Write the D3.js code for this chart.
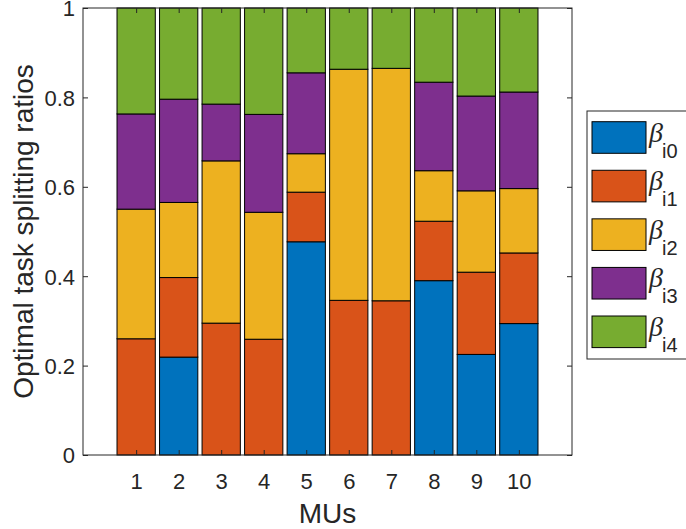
<!DOCTYPE html>
<html>
<head>
<meta charset="utf-8">
<script src="https://cdn.jsdelivr.net/npm/d3@7"></script>
<style>
  html, body { margin: 0; padding: 0; background: #fff; }
  svg { display: block; font-family: "Liberation Sans", Arial, Helvetica, sans-serif; }
</style>
</head>
<body>
<svg id="chart" width="686" height="529"></svg>
<script>
// Mobile users (MUs) and their task splitting ratios beta_i0 .. beta_i4
const mus = [1, 2, 3, 4, 5, 6, 7, 8, 9, 10];
const beta0 = [0.000, 0.219, 0.000, 0.000, 0.477, 0.000, 0.000, 0.390, 0.225, 0.294];
const beta1 = [0.260, 0.178, 0.295, 0.259, 0.111, 0.346, 0.345, 0.133, 0.184, 0.158];
const beta2 = [0.290, 0.168, 0.363, 0.284, 0.086, 0.517, 0.520, 0.113, 0.182, 0.144];
const beta3 = [0.213, 0.231, 0.127, 0.219, 0.181, 0.000, 0.000, 0.198, 0.212, 0.216];
const beta4 = [0.237, 0.204, 0.215, 0.238, 0.145, 0.137, 0.135, 0.166, 0.197, 0.188];
const seriesKeys = ["i0", "i1", "i2", "i3", "i4"];
const seriesColors = ["#0072BD", "#D95319", "#EDB120", "#7E2F8E", "#77AC30"];
const yTicks = [0, 0.2, 0.4, 0.6, 0.8, 1];
const yTickLabels = ["0", "0.2", "0.4", "0.6", "0.8", "1"];

const rows = mus.map((m, i) => ({
  mu: m, i0: beta0[i], i1: beta1[i], i2: beta2[i], i3: beta3[i], i4: beta4[i]
}));

const svg = d3.select("#chart");
const ink = "#262626";

const plot = { left: 83, right: 572, top: 8, bottom: 455 };
const x = d3.scaleLinear().domain([-0.25, 11.25]).range([plot.left, plot.right]);
const y = d3.scaleLinear().domain([0, 1]).range([plot.bottom, plot.top]);
const barW = x(0.9) - x(0);

const stacked = d3.stack().keys(seriesKeys)(rows);

// stacked bars
svg.append("g").selectAll("g")
  .data(stacked)
  .join("g")
    .attr("fill", (d, i) => seriesColors[i])
  .selectAll("rect")
  .data(d => d)
  .join("rect")
    .attr("x", d => x(d.data.mu) - barW / 2)
    .attr("y", d => y(d[1]))
    .attr("width", barW)
    .attr("height", d => Math.max(0, y(d[0]) - y(d[1])))
    .attr("stroke", "#000")
    .attr("stroke-width", 1);

// axes with inward ticks on all four sides
const tickLen = 5;
const axB = svg.append("g").attr("transform", `translate(0,${plot.bottom})`)
  .call(d3.axisBottom(x).tickValues(mus).tickSize(-tickLen).tickPadding(14).tickFormat(d3.format("d")));
const axT = svg.append("g").attr("transform", `translate(0,${plot.top})`)
  .call(d3.axisTop(x).tickValues(mus).tickSize(-tickLen).tickFormat(""));
const axL = svg.append("g").attr("transform", `translate(${plot.left},0)`)
  .call(d3.axisLeft(y).tickValues(yTicks).tickSize(-tickLen).tickPadding(8)
    .tickFormat((d, i) => yTickLabels[i]));
const axR = svg.append("g").attr("transform", `translate(${plot.right},0)`)
  .call(d3.axisRight(y).tickValues(yTicks).tickSize(-tickLen).tickFormat(""));

[axB, axT, axL, axR].forEach(a => {
  a.select(".domain").remove();
  a.selectAll(".tick line").attr("stroke", ink).attr("stroke-width", 1);
  a.selectAll("text").attr("fill", ink).attr("font-size", 22)
    .attr("font-family", "Liberation Sans, Arial, sans-serif");
});
axB.selectAll("text").attr("dy", "0.71em").attr("y", 18);
axL.selectAll("text").attr("x", -8).attr("dy", "0.36em");

// axes box
svg.append("rect")
  .attr("x", plot.left).attr("y", plot.top)
  .attr("width", plot.right - plot.left).attr("height", plot.bottom - plot.top)
  .attr("fill", "none").attr("stroke", ink).attr("stroke-width", 1);

// axis titles
svg.append("text")
  .attr("x", (plot.left + plot.right) / 2).attr("y", 523)
  .attr("text-anchor", "middle").attr("font-size", 28).attr("fill", ink)
  .text("MUs");
svg.append("text")
  .attr("transform", `translate(33,${(plot.top + plot.bottom) / 2}) rotate(-90)`)
  .attr("text-anchor", "middle").attr("font-size", 28).attr("fill", ink)
  .text("Optimal task splitting ratios");

// legend
const legend = svg.append("g");
legend.append("rect")
  .attr("x", 587).attr("y", 111).attr("width", 110).attr("height", 248)
  .attr("fill", "#fff").attr("stroke", ink).attr("stroke-width", 1);
const entryY = d3.scaleLinear().domain([0, 4]).range([137.5, 331.8]);
seriesKeys.forEach((k, i) => {
  const cy = entryY(i);
  legend.append("rect")
    .attr("x", 592).attr("y", cy - 15.8).attr("width", 54).attr("height", 31.6)
    .attr("fill", seriesColors[i]).attr("stroke", "#000").attr("stroke-width", 1);
  legend.append("text")
    .attr("x", 649).attr("y", cy + 4)
    .attr("font-size", 28).attr("font-style", "italic").attr("fill", ink)
    .attr("font-family", "Liberation Serif, serif")
    .text("β");
  legend.append("text")
    .attr("x", 662).attr("y", cy + 20)
    .attr("font-size", 20).attr("fill", ink)
    .text(k);
});
</script>
</body>
</html>
